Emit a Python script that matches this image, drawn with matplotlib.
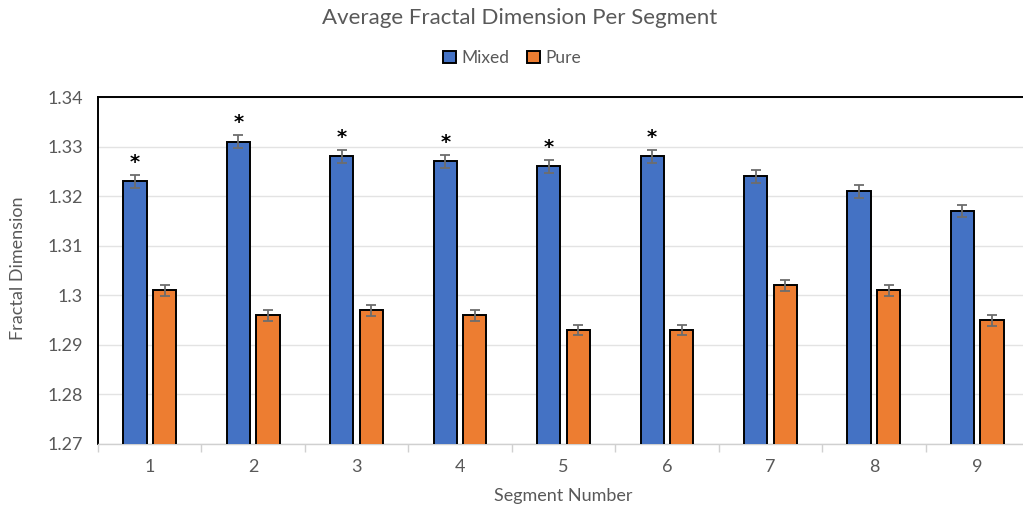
import matplotlib
matplotlib.use("Agg")
import matplotlib.pyplot as plt
import numpy as np
from matplotlib.ticker import FuncFormatter, MultipleLocator

# average fractal dimension for each segment
segments = ["1", "2", "3", "4", "5", "6", "7", "8", "9"]
mixed = [1.323, 1.331, 1.328, 1.327, 1.326, 1.328, 1.324, 1.321, 1.317]
pure = [1.301, 1.296, 1.297, 1.296, 1.293, 1.293, 1.302, 1.301, 1.295]
mixed_err = [0.0013] * 9
pure_err = [0.0011] * 9
significant = [True, True, True, True, True, True, False, False, False]

plt.rcParams["font.family"] = ["Lato", "DejaVu Sans"]
grey = "#595959"

fig = plt.figure(figsize=(10.23, 5.09), dpi=100)
ax = fig.add_axes([98 / 1023, 1 - 444 / 509, (1029 - 98) / 1023, (444 - 97) / 509])

x = np.arange(len(segments))
w = 0.225
off = 0.143
err_kw = dict(ecolor="#6d6d6d", elinewidth=1.3, capsize=3.5, capthick=1.3)
ax.bar(x - off, mixed, w, color="#4472C4", edgecolor="black", linewidth=1.4,
       yerr=mixed_err, error_kw=err_kw, label="Mixed", zorder=3)
ax.bar(x + off, pure, w, color="#ED7D31", edgecolor="black", linewidth=1.4,
       yerr=pure_err, error_kw=err_kw, label="Pure", zorder=3)

# significance markers
for i, flag in enumerate(significant):
    if flag:
        ax.annotate("*", (x[i] - off, mixed[i] + mixed_err[i]), xytext=(0, 2),
                    textcoords="offset points", ha="center", va="bottom",
                    fontsize=14, fontweight="bold", color="black",
                    family="DejaVu Sans")

ax.set_xlim(-0.5, len(segments) - 0.5)
ax.set_ylim(1.27, 1.34)
ax.yaxis.set_major_locator(MultipleLocator(0.01))
ax.yaxis.set_major_formatter(FuncFormatter(lambda v, p: f"{round(v, 2):g}"))
ax.grid(axis="y", color="#e3e3e3", linewidth=1, zorder=0)
ax.set_axisbelow(True)

ax.set_xticks(x)
ax.set_xticklabels(segments)
ax.set_xticks(np.arange(-0.5, len(segments), 1), minor=True)
ax.tick_params(axis="x", which="major", length=0, pad=11, labelsize=13, labelcolor=grey)
ax.tick_params(axis="x", which="minor", length=6, color="#d0d0d0", width=1)
ax.tick_params(axis="y", length=0, pad=11, labelsize=13, labelcolor=grey)

ax.spines["left"].set_color("black")
ax.spines["left"].set_linewidth(1.4)
ax.spines["top"].set_color("black")
ax.spines["top"].set_linewidth(1.4)
ax.spines["right"].set_visible(False)
ax.spines["bottom"].set_color("#d0d0d0")
ax.spines["bottom"].set_linewidth(1)

ax.set_xlabel("Segment Number", fontsize=13, color=grey, labelpad=9)
fig.text(18 / 1023, 1 - 268 / 509, "Fractal Dimension", rotation=90,
         ha="center", va="center", fontsize=13, color=grey)

fig.text(520 / 1023, 1 - 18 / 509, "Average Fractal Dimension Per Segment",
         ha="center", va="center", fontsize=16, color=grey)
fig.legend(loc="center", bbox_to_anchor=(512 / 1023, 1 - 58 / 509), ncol=2,
           frameon=False, fontsize=12.5, handlelength=0.75, handleheight=0.75,
           handletextpad=0.3, columnspacing=1.0, labelcolor=grey)

fig.savefig("out.png", dpi=100)
